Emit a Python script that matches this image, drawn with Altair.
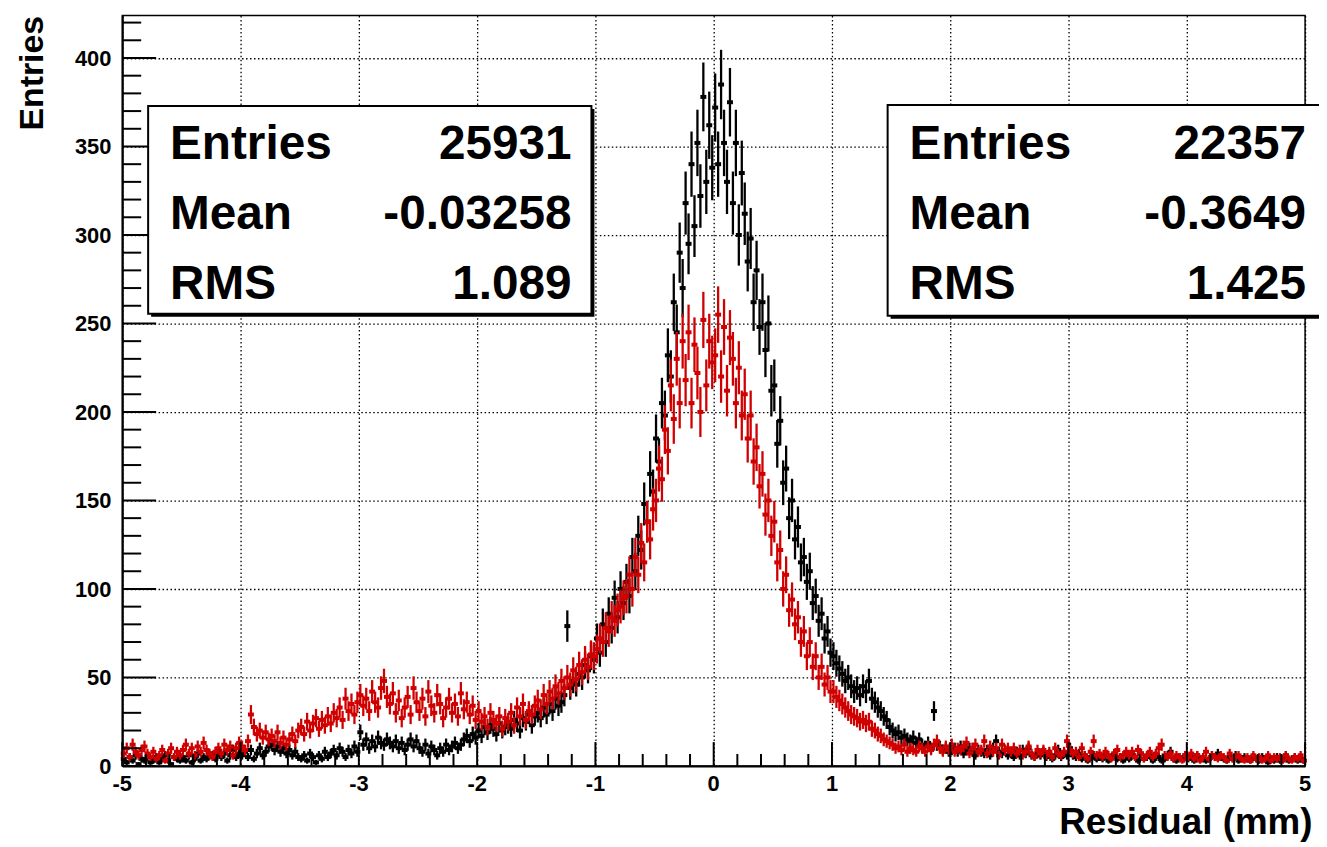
import altair as alt
import pandas as pd
import numpy as np

# ---------------- data ----------------
x_min, x_max = -5.0, 5.0   # histogram range, 400 bins of 0.025

# black histogram, 10 bins per 0.25 interval from -5 to 5
black_counts = [
    4, 2, 5, 3, 6, 1, 4, 3, 5, 2,
    3, 5, 2, 4, 6, 3, 1, 5, 4, 3,
    5, 3, 6, 2, 4, 7, 3, 5, 4, 6,
    6, 4, 8, 5, 7, 3, 6, 9, 5, 7,
    6, 8, 5, 9, 4, 7, 10, 6, 8, 11,
    12, 9, 11, 8, 10, 7, 9, 6, 8, 5,
    4, 6, 3, 7, 5, 2, 6, 4, 8, 5,
    7, 9, 6, 10, 8, 5, 9, 7, 11, 8,
    19, 12, 15, 10, 14, 11, 16, 13, 12, 15,
    13, 11, 14, 10, 13, 9, 12, 15, 11, 14,
    10, 8, 12, 7, 11, 9, 6, 10, 8, 12,
    9, 11, 13, 10, 12, 15, 17, 14, 18, 16,
    20, 17, 22, 19, 23, 21, 18, 24, 20, 22,
    23, 21, 26, 24, 20, 27, 25, 29, 23, 28,
    30, 27, 33, 29, 35, 31, 38, 34, 36, 40,
    79, 44, 48, 46, 52, 50, 57, 54, 62, 60,
    72, 64, 80, 70, 86, 78, 95, 84, 100, 92,
    104, 96, 118, 110, 130, 122, 148, 138, 165, 155,
    185, 172, 205, 198, 232, 220, 262, 245, 290, 270,
    318, 295, 340, 305, 352, 322, 378, 330, 362, 338,
    372, 340, 385, 352, 330, 375, 318, 352, 300, 335,
    312, 285, 298, 262, 280, 248, 262, 235, 250, 212,
    215, 182, 195, 160, 168, 140, 150, 128, 135, 115,
    118, 104, 110, 92, 96, 82, 86, 72, 76, 64,
    62, 58, 55, 52, 48, 50, 45, 42, 44, 40,
    45, 42, 48, 38, 36, 33, 31, 28, 26, 22,
    20, 18, 19, 16, 17, 15, 14, 16, 13, 15,
    12, 11, 13, 10, 31, 12, 11, 9, 10, 8,
    9, 10, 8, 11, 7, 9, 10, 8, 6, 9,
    8, 7, 9, 6, 10, 14, 8, 7, 9, 6,
    7, 5, 8, 6, 9, 7, 10, 6, 5, 7,
    6, 8, 5, 7, 4, 6, 9, 5, 7, 6,
    10, 6, 5, 7, 4, 6, 3, 5, 6, 4,
    5, 4, 6, 3, 5, 7, 4, 5, 3, 6,
    4, 6, 5, 3, 7, 4, 5, 6, 3, 5,
    5, 3, 4, 6, 8, 4, 3, 5, 4, 6,
    4, 5, 3, 6, 4, 5, 3, 4, 6, 5,
    7, 5, 4, 3, 5, 4, 6, 3, 4, 5,
    4, 3, 5, 4, 3, 5, 4, 2, 4, 3,
    5, 3, 4, 6, 3, 4, 5, 3, 4, 3,
]

# red histogram, same binning
red_counts = [
    7, 10, 5, 12, 8, 6, 9, 11, 7, 5,
    8, 4, 6, 9, 3, 7, 10, 5, 8, 6,
    9, 12, 7, 10, 6, 11, 8, 13, 9, 7,
    5, 8, 10, 7, 12, 9, 11, 6, 10, 13,
    11, 9, 14, 29, 22, 18, 20, 16, 19, 15,
    17, 14, 19, 13, 16, 12, 15, 18, 14, 20,
    22, 18, 25, 20, 24, 27, 21, 26, 23, 28,
    24, 30, 27, 33, 26, 38, 31, 35, 29, 36,
    40, 34, 38, 31, 42, 36, 33, 44, 48, 39,
    35, 41, 30, 37, 27, 33, 39, 29, 44, 36,
    31, 38, 28, 42, 34, 30, 40, 35, 27, 33,
    38, 30, 35, 28, 41, 32, 36, 29, 34, 26,
    31, 25, 28, 22, 30, 26, 24, 28, 21, 27,
    25, 30, 23, 33, 28, 35, 26, 31, 29, 34,
    37, 32, 40, 35, 42, 38, 45, 41, 48, 44,
    50, 46, 54, 49, 57, 53, 60, 56, 63, 62,
    66, 72, 70, 78, 76, 84, 82, 88, 90, 95,
    96, 108, 100, 118, 108, 126, 115, 138, 128, 145,
    150, 168, 162, 190, 178, 215, 196, 230, 205, 240,
    218, 245, 205, 238, 222, 200, 252, 215, 240, 228,
    232, 255, 220, 248, 212, 242, 230, 205, 225, 198,
    210, 185, 198, 172, 180, 158, 165, 142, 150, 130,
    138, 115, 122, 100, 108, 88, 94, 80, 84, 70,
    76, 62, 70, 56, 62, 50, 56, 46, 50, 42,
    42, 39, 37, 35, 33, 31, 29, 28, 27, 25,
    26, 24, 25, 21, 20, 18, 17, 15, 14, 13,
    12, 10, 11, 9, 12, 8, 10, 9, 8, 11,
    10, 8, 11, 9, 12, 14, 10, 8, 11, 9,
    12, 8, 10, 9, 11, 13, 7, 10, 12, 8,
    9, 14, 7, 11, 8, 10, 6, 12, 9, 10,
    8, 10, 7, 9, 6, 8, 11, 7, 5, 9,
    7, 9, 6, 8, 5, 10, 7, 6, 8, 14,
    9, 7, 8, 5, 10, 6, 4, 8, 14, 6,
    7, 5, 8, 6, 4, 7, 9, 5, 6, 8,
    6, 8, 5, 9, 7, 4, 6, 8, 5, 7,
    10, 12, 6, 5, 7, 4, 6, 5, 3, 6,
    5, 7, 4, 6, 3, 5, 8, 4, 6, 5,
    4, 6, 5, 3, 7, 4, 5, 6, 4, 3,
    5, 3, 6, 4, 5, 3, 4, 6, 3, 5,
    4, 5, 3, 6, 4, 3, 5, 4, 6, 3,
]

stat_names = ["Entries", "Mean", "RMS"]
stat_black = ["25931", "-0.03258", "1.089"]
stat_red = ["22357", "-0.3649", "1.425"]

x_major = [-5, -4, -3, -2, -1, 0, 1, 2, 3, 4, 5]
x_minor = [round(-5 + 0.2 * k, 1) for k in range(1, 50) if k % 5 != 0]
y_major = [0, 50, 100, 150, 200, 250, 300, 350, 400]
y_minor = [v for v in range(10, 421, 10) if v % 50 != 0]

X_TITLE = "Residual (mm)"
Y_TITLE = "Entries"

# ---------------- build tables ----------------
def hist_df(counts):
    n = len(counts)
    w = (x_max - x_min) / n
    centers = x_min + w * (np.arange(n) + 0.5)
    c = np.array(counts, dtype=float)
    e = np.sqrt(c)
    return pd.DataFrame({"x": centers, "y": c,
                         "lo": np.clip(c - e, 0, None), "hi": c + e})

df_black = hist_df(black_counts)
df_red = hist_df(red_counts)

W, H = 1190, 755
FONT = "Liberation Sans"
BLACK = "#000000"
RED = "#d00000"
LABEL_SIZE = 22

xs = alt.Scale(domain=[x_min, x_max], nice=False, zero=False)
ys = alt.Scale(domain=[0, 424], nice=False, zero=False)

common = dict(grid=True, gridColor=BLACK, gridDash=[1.5, 2.5], gridWidth=1.3,
              gridOpacity=1, tickSize=0, ticks=False, labels=False,
              domainColor=BLACK, domainWidth=2,
              titleFont=FONT, titleFontWeight="bold", titleColor=BLACK)

x_axis = alt.Axis(values=x_major, title=X_TITLE,
                  titleFontSize=37, titleAnchor="end", titleAlign="right",
                  titleX=W + 7, titleY=68, titleBaseline="alphabetic",
                  **common)
y_axis = alt.Axis(values=y_major, title=Y_TITLE,
                  titleFontSize=34, titleAngle=270, titleAlign="right",
                  titleAnchor="end", titleX=-80, titleY=0,
                  titleBaseline="alphabetic", **common)

X = lambda f: alt.X(f, scale=xs, axis=x_axis)
Y = lambda f: alt.Y(f, scale=ys, axis=y_axis)

def err_layer(df, color):
    return alt.Chart(df).mark_rule(color=color, strokeWidth=2.3).encode(
        x=X("x:Q"), y=Y("lo:Q"), y2="hi:Q")

def mark_layer(df, color):
    return alt.Chart(df).mark_tick(color=color, orient="horizontal", size=6,
                                   thickness=4, opacity=1).encode(
        x=X("x:Q"), y=Y("y:Q"))

layers = [
    err_layer(df_black, BLACK),
    mark_layer(df_black, BLACK),
    err_layer(df_red, RED),
    mark_layer(df_red, RED),
]

# inner ticks (ROOT style)
def xticks(vals, length):
    return alt.Chart(pd.DataFrame({"x": vals})).mark_rule(
        color=BLACK, strokeWidth=2).encode(
        x=X("x:Q"), y=alt.value(H), y2=alt.value(H - length))

def yticks(vals, length):
    return alt.Chart(pd.DataFrame({"y": vals})).mark_rule(
        color=BLACK, strokeWidth=2).encode(
        y=Y("y:Q"), x=alt.value(0), x2=alt.value(length))

layers += [xticks(x_major, 24), xticks(x_minor, 12),
           yticks(y_major, 34), yticks(y_minor, 19)]

# tick labels as text
xlab = pd.DataFrame({"x": x_major, "t": [str(v) for v in x_major]})
ylab = pd.DataFrame({"y": y_major, "t": [str(v) for v in y_major]})
layers.append(alt.Chart(xlab).mark_text(
    align="center", baseline="top", font=FONT, fontWeight="bold",
    fontSize=LABEL_SIZE, color=BLACK).encode(
    x=X("x:Q"), y=alt.value(H + 8), text="t:N"))
layers.append(alt.Chart(ylab).mark_text(
    align="right", baseline="middle", font=FONT, fontWeight="bold",
    fontSize=LABEL_SIZE, color=BLACK, dy=1).encode(
    y=Y("y:Q"), x=alt.value(-11), text="t:N"))

# statistics boxes
one = pd.DataFrame({"a": [0]})

def stat_box(x0, x1, y0, y1, names, values, tx, vx, baselines):
    out = []
    out.append(alt.Chart(one).mark_rect(color=BLACK).encode(
        x=alt.value(x0 + 3), x2=alt.value(x1 + 3),
        y=alt.value(y0 + 3), y2=alt.value(y1 + 3)))
    out.append(alt.Chart(one).mark_rect(fill="white", stroke=BLACK,
                                        strokeWidth=2).encode(
        x=alt.value(x0), x2=alt.value(x1),
        y=alt.value(y0), y2=alt.value(y1)))
    for nm, val, by in zip(names, values, baselines):
        out.append(alt.Chart(one).mark_text(
            align="left", baseline="alphabetic", font=FONT,
            fontWeight="bold", fontSize=48, color=BLACK).encode(
            x=alt.value(tx), y=alt.value(by), text=alt.value(nm)))
        out.append(alt.Chart(one).mark_text(
            align="right", baseline="alphabetic", font=FONT,
            fontWeight="bold", fontSize=48, color=BLACK).encode(
            x=alt.value(vx), y=alt.value(by), text=alt.value(val)))
    return out

baselines = [144, 215, 285]
layers += stat_box(26, 472, 91, 300, stat_names, stat_black, 48, 452, baselines)
layers += stat_box(770, 1230, 90, 302, stat_names, stat_red, 792, 1191, baselines)

chart = alt.layer(*layers).properties(
    width=W, height=H,
    padding={"left": 115, "top": 5, "right": 14, "bottom": 76},
    autosize=alt.AutoSizeParams(type="none"),
    background="white",
).configure_view(stroke=BLACK, strokeWidth=1.5)

chart.save("out.html", embed_options={"renderer": "svg", "actions": False})
